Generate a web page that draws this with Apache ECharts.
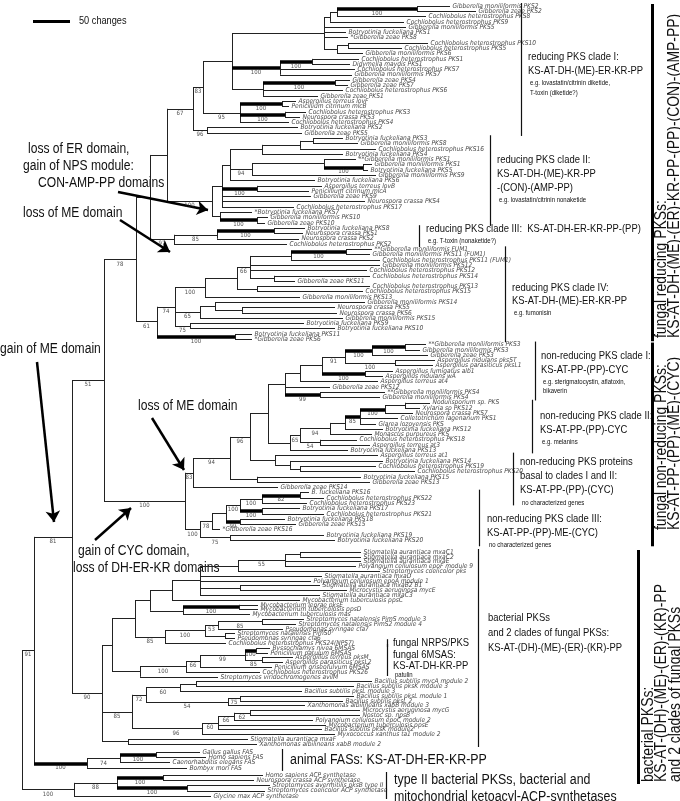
<!DOCTYPE html>
<html>
<head>
<meta charset="utf-8">
<script src="https://cdn.jsdelivr.net/npm/echarts@6/dist/echarts.min.js"></script>
<style>
html, body { margin: 0; padding: 0; background: #fff; }
#tree { width: 680px; height: 801px; }
</style>
</head>
<body>
<div id="tree"></div>
<script>
// node = [depth, bootstrap, thickStem, ...children]; leaf = [name, tipDepth]
var reducingI = [193, '67', 0,
  [203, '83', 0,
    [232, '', 0,
      [324, '', 0,
        [330, '', 0,
          [337, '', 0,
            [417, '100', 1, ['Gibberella moniliformis PKS2', 450], ['Gibberella zeae PKS2', 476]],
            ['Cochliobolus heterostrophus PKS8', 426]],
          ['Cochliobolus heterostrophus PKS9', 404]],
        ['Gibberella moniliformis PKS5', 406],
        ['Botryotinia fuckeliana PKS1', 346],
        ['*Gibberella zeae PKS8', 348],
        [337, '', 0,
          [348, '', 0, ['Cochliobolus heterostrophus PKS10', 428], ['Cochliobolus heterostrophus PKS5', 402]],
          ['Gibberella moniliformis PKS6', 363]]],
      [280, '100', 1,
        [312, '100', 1, ['Cochliobolus heterostrophus PKS1', 359], ['Didymella maydis PKS1', 350]],
        ['Cochliobolus heterostrophus PKS7', 355],
        ['Gibberella moniliformis PKS7', 352]],
      [263, '', 0,
        [335, '100', 1, ['Gibberella zeae PKS4', 350], ['Gibberella zeae PKS7', 348]],
        ['Cochliobolus heterostrophus PKS6', 343],
        ['Gibberella zeae PKS1', 318]]],
    [240, '95', 0,
      [282, '100', 1, ['Aspergillus terreus lovF', 296], ['Penicillium citrinum mlcB', 289]],
      [285, '100', 1, ['Cochliobolus heterostrophus PKS3', 306], ['Neurospora crassa PKS3', 300]],
      ['Cochliobolus heterostrophus PKS4', 289]]],
  [207, '96', 0, ['Botryotinia fuckeliana PKS2', 298], ['Gibberella zeae PKS5', 302]]]

var reducingII = [212, '100', 0,
  [222, '', 0,
    [230, '', 0,
      [262, '', 0,
        [300, '', 0,
          [313, '', 0, ['Botryotinia fuckeliana PKS3', 343], ['Gibberella moniliformis PKS8', 358]],
          ['Cochliobolus heterostrophus PKS16', 376]],
        ['Botryotinia fuckeliana PKS4', 343]],
      [252, '94', 0,
        [324, '', 0,
          ['**Gibberella moniliformis PKS1', 356],
          [363, '100', 1, ['Gibberella moniliformis PKS1', 372], ['Botryotinia fuckeliana PKS5', 368]]],
        ['Gibberella moniliformis PKS9', 376]],
      ['Botryotinia fuckeliana PKS6', 315]],
    [257, '100', 1, ['Aspergillus terreus lovB', 322], ['Penicillium citrinum mlcA', 309]],
    ['Gibberella zeae PKS9', 311],
    ['Neurospora crassa PKS4', 365],
    ['Cochliobolus heterostrophus PKS17', 294]],
  [220, '', 0,
    ['*Botryotinia fuckeliana PKS7', 252],
    [257, '100', 1, ['Gibberella moniliformis PKS10', 268], ['Gibberella zeae PKS10', 265]]]]

var reducingIII = [174, '97', 0,
  [217, '85', 0,
    [274, '100', 1, ['Botryotinia fuckeliana PKS8', 305], ['Neurospora crassa PKS1', 303]],
    ['Neurospora crassa PKS2', 299]],
  ['Cochliobolus heterostrophus PKS2', 287]]

var reducingIV = [157, '61', 0,
  [175, '74', 0,
    [205, '100', 0,
      [237, '', 0,
        [250, '66', 0,
          [291, '', 0,
            [346, '100', 1, ['**Gibberella moniliformis FUM1', 372], ['Gibberella moniliformis PKS11 (FUM1)', 370]],
            ['Cochliobolus heterostrophus PKS11 (FUM1)', 380]],
          ['Gibberella moniliformis PKS12', 380],
          ['Cochliobolus heterostrophus PKS12', 367],
          [274, '', 0, ['Cochliobolus heterostrophus PKS14', 370], ['Gibberella zeae PKS11', 295]]],
        [257, '', 0, ['Cochliobolus heterostrophus PKS13', 370], ['Cochliobolus heterostrophus PKS15', 363]]],
      ['Gibberella moniliformis PKS13', 300]],
    [200, '65', 0,
      [215, '', 0,
        ['Gibberella moniliformis PKS14', 365],
        [242, '', 0, ['Neurospora crassa PKS5', 335], ['Neurospora crassa PKS6', 337]]],
      ['Gibberella moniliformis PKS15', 343]],
    [190, '75', 0, ['Botryotinia fuckeliana PKS9', 304], ['Botryotinia fuckeliana PKS10', 335]]],
  [235, '100', 1, ['Botryotinia fuckeliana PKS11', 252], ['*Gibberella zeae PKS6', 252]]]

var nonReducingI = [285, '', 0,
  [300, '', 0,
    [322, '', 0,
      [345, '91', 0,
        [372, '100', 1,
          [405, '100', 1, ['**Gibberella moniliformis PKS3', 426], ['Gibberella moniliformis PKS3', 420]],
          ['Gibberella zeae PKS3', 428]],
        [395, '100', 0, ['Aspergillus nidulans pksST', 435], ['Aspergillus parasiticus pksL1', 433]]],
      [365, '100', 1, ['Aspergillus fumigatus alb1', 393], ['Aspergillus nidulans wA', 383]]],
    ['Aspergillus terreus at4', 378]],
  ['Gibberella zeae PKS12', 330],
  [320, '99', 1, ['**Gibberella moniliformis PKS4', 385], ['Gibberella moniliformis PKS4', 380]]]

var nonReducingII = [290, '', 0,
  [300, '65', 0,
    [330, '94', 0,
      [345, '', 0,
        [360, '85', 1,
          [385, '100', 1,
            [405, '', 0, ['Nodulisporium sp. PKS', 430], ['Xylaria sp PKS12', 420]],
            ['Neurospora crassa PKS7', 413]],
          ['Colletotrichum lagenarium PKS1', 398],
          ['Glarea lozoyensis PKS', 376]],
        ['Botryotinia fuckeliana PKS12', 383]],
      ['Monascus purpureus PKS', 372]],
    [320, '54', 0, ['Cochliobolus heterostrophus PKS18', 357], ['Aspergillus terreus at3', 370]]],
  ['Botryotinia fuckeliana PKS13', 348]]

var nonReducingBasal = [193, '83', 0,
  [230, '94', 0,
    [250, '96', 0,
      [268, '', 0, nonReducingI, nonReducingII],
      [275, '', 0,
        ['Aspergillus terreus at1', 378],
        [290, '', 0,
          ['Botryotinia fuckeliana PKS14', 383],
          [300, '', 0, ['Cochliobolus heterostrophus PKS19', 376], ['Cochliobolus heterostrophus PKS20', 415]]]]],
    [257, '', 0, ['Botryotinia fuckeliana PKS15', 361], ['Gibberella zeae PKS13', 370]]],
  ['Gibberella zeae PKS14', 278]]

var nonReducingIII = [200, '100', 0,
  [212, '78', 0,
    [226, '', 0,
      [240, '100', 0,
        [262, '100', 0,
          [300, '82', 1, ['B. fuckeliana PKS16', 309], ['Cochliobolus heterostrophus PKS22', 324]],
          ['Cochliobolus heterostrophus PKS23', 307]],
        [262, '100', 1, ['Botryotinia fuckeliana PKS17', 300], ['Cochliobolus heterostrophus PKS21', 324]]],
      [240, '99', 1, ['Botryotinia fuckeliana PKS18', 285], ['Gibberella zeae PKS15', 296]]],
    ['*Gibberella zeae PKS16', 220]],
  [230, '75', 0, ['Botryotinia fuckeliana PKS19', 324], ['Botryotinia fuckeliana PKS20', 335]]]

var stigmatellaGroup = [150, '', 0,
  [172, '', 0,
    [200, '', 0,
      [238, '', 0,
        [285, '55', 0,
          [300, '', 0, ['Stigmatella aurantiaca mxaC1', 361], ['Stigmatella aurantiaca mxaC2', 361]],
          ['Stigmatella aurantiaca mxaE', 361],
          ['Polyangium cellulosum epoF module 9', 356]],
        ['Streptomyces coelicolor pks', 380]],
      ['Stigmatella aurantiaca mxaD', 322],
      ['Polyangium cellulosum epoA module 1', 311],
      [240, '', 0, ['Stigmatella aurantiaca mxaB2 B1', 320], ['Microcystis aeruginosa mycE', 347]],
      ['Stigmatella aurantiaca mxaC3', 320]],
    ['Mycobacterium tuberculosis ppsC', 300]],
  [183, '', 0,
    [239, '100', 1, ['Mycobacterium leprae pksE', 258], ['Mycobacterium tuberculosis ppsD', 258]],
    ['Mycobacterium tuberculosis mas', 250]]]

var pimarisGroup = [165, '85', 0,
  [205, '100', 0,
    [218, '53', 0,
      [262, '85', 0, ['Streptomyces natalensis PimS module 3', 304], ['Streptomyces natalensis PimS2 module 4', 296]],
      ['Pseudomonas syringae cfa7', 283]],
    [225, '', 0, ['Streptomyces natalensis PimS0', 235], ['Pseudomonas syringae cfa6', 235]]],
  ['Cochliobolus heterostrophus PKS24(NPS7)', 226]]

var msasGroup = [140, '', 0,
  [186, '100', 0,
    [200, '66', 0,
      [245, '99', 0,
        [256, '100', 1, ['Byssochlamys nivea 6MSAS', 270], ['Penicillium patulum 6MSAS', 268]],
        [262, '85', 0, ['Aspergillus terreus pksM', 293], ['Aspergillus parasiticus pksL2', 283]]],
      ['Penicillium griseofulvum 6MSAS', 272]],
    ['Cochliobolus heterostrophus PKS26', 260]],
  ['Streptomyces viridochromogenes avilM', 218]]

var bacillusGroup = [132, '85', 0,
  [146, '72', 0,
    [180, '60', 0,
      [196, '', 0, ['Bacillus subtilis mycA module 2', 372], ['Bacillus subtilis pksK module 3', 354]],
      ['Bacillus subtilis pksL module 3', 302]],
    [228, '54', 0,
      [240, '75', 0, ['Bacillus subtilis pksL module 1', 354], ['Bacillus subtilis pksL 2', 343]],
      ['Xanthomonas albilineans xabB module 3', 305]]],
  [150, '', 0,
    [202, '96', 0,
      [218, '60', 0,
        [234, '66', 0,
          [250, '62', 0, ['Microcystis aeruginosa mycG', 360], ['Nostoc sp. npsB', 360]],
          ['Polyangium cellulosum epoC module 2', 313]],
        ['Mycobacterium tuberculosis ppsE', 326],
        ['Bacillus subtilis pksK module2', 322]],
      ['Myxococcus xanthus ta1 module 2', 335]]]]

var bacterial = [102, '90', 0,
  [112, '', 0, [135, '', 0, stigmatellaGroup, pimarisGroup], msasGroup],
  bacillusGroup,
  [128, '', 0, ['Stigmatella aurantiaca mxaF', 248], ['Xanthomonas albilineans xabB module 2', 257]]]

var animalFAS = [87, '100', 1,
  [120, '74', 0,
    [156, '100', 1, ['Gallus gallus FAS', 200], ['Homo sapiens FAS', 206]],
    ['Caenorhabditis elegans FAS', 170]],
  ['Bombyx mori FAS', 187]]

var typeII = [74, '100', 0,
  [117, '88', 0,
    [163, '100', 1, ['Homo sapiens ACP synthetase', 263], ['Neurospora crassa ACP synthetase', 254]],
    [187, '100', 1, ['Streptomyces avermitilis pksB type II', 270], ['Streptomyces coelicolor ACP synthetase', 265]]],
  ['Glycine max ACP synthetase', 211]]

var reducing = [136, '78', 0, [150, '', 0, [167, '', 0, reducingI, reducingII], reducingIII], reducingIV]
var fungal = [104, '51', 0, reducing, [185, '100', 0, nonReducingBasal, nonReducingIII]]
var tree = [22, '', 0, [34, '91', 0, [72, '81', 0, fungal, bacterial], animalFAS], typeII]

// clade notes: [first leaf, last leaf, text lines]
var cladeNotes = [
  ['Gibberella moniliformis PKS2', 'Gibberella zeae PKS5', ['reducing PKS clade I:', 'KS-AT-DH-(ME)-ER-KR-PP', 'e.g. lovastatin/citrinin diketide,', 'T-toxin (diketide?)']],
  ['Botryotinia fuckeliana PKS3', 'Gibberella zeae PKS10', ['reducing PKS clade II:', 'KS-AT-DH-(ME)-KR-PP', '-(CON)-(AMP-PP)', 'e.g. lovastatin/citrinin nonaketide']],
  ['Botryotinia fuckeliana PKS8', 'Cochliobolus heterostrophus PKS2', ['reducing PKS clade III:  KS-AT-DH-ER-KR-PP-(PP)', 'e.g. T-toxin (nonaketide?)']],
  ['**Gibberella moniliformis FUM1', '*Gibberella zeae PKS6', ['reducing PKS clade IV:', 'KS-AT-DH-(ME)-ER-KR-PP', 'e.g. fumonisin']],
  ['**Gibberella moniliformis PKS3', 'Gibberella moniliformis PKS4', ['non-reducing PKS clade I:', 'KS-AT-PP-(PP)-CYC', 'e.g. sterigmatocystin, aflatoxin,', 'bikaverin']],
  ['Nodulisporium sp. PKS', 'Botryotinia fuckeliana PKS13', ['non-reducing PKS clade II:', 'KS-AT-PP-(PP)-CYC', 'e.g. melanins']],
  ['Aspergillus terreus at1', 'Gibberella zeae PKS14', ['non-reducing PKS proteins', 'basal to clades I and II:', 'KS-AT-PP-(PP)-(CYC)', 'no characterized genes']],
  ['B. fuckeliana PKS16', 'Botryotinia fuckeliana PKS20', ['non-reducing PKS clade III:', 'KS-AT-PP-(PP)-ME-(CYC)', 'no characterized genes']],
  ['Stigmatella aurantiaca mxaC1', 'Xanthomonas albilineans xabB module 2', ['bacterial PKSs', 'and 2 clades of fungal PKSs:', 'KS-AT-(DH)-(ME)-(ER)-(KR)-PP']],
  ['Cochliobolus heterostrophus PKS24(NPS7)', 'Cochliobolus heterostrophus PKS24(NPS7)', ['fungal NRPS/PKS']],
  ['Byssochlamys nivea 6MSAS', 'Cochliobolus heterostrophus PKS26', ['fungal 6MSAS:', 'KS-AT-DH-KR-PP', 'patulin']],
  ['Gallus gallus FAS', 'Bombyx mori FAS', ['animal FASs: KS-AT-DH-ER-KR-PP']],
  ['Homo sapiens ACP synthetase', 'Glycine max ACP synthetase', ['type II bacterial PKSs, bacterial and', 'mitochondrial ketoacyl-ACP-synthetases']]
]
var groupNotes = [
  ['Gibberella moniliformis PKS2', '*Gibberella zeae PKS6', ['fungal reducing PKSs:', 'KS-AT-DH-(ME)-(ER)-KR-PP-(PP)-(CON)-(AMP-PP)']],
  ['**Gibberella moniliformis PKS3', 'Botryotinia fuckeliana PKS20', ['fungal non-reducing PKSs:', 'KS-AT-PP-(PP)-(ME)-(CYC)']],
  ['Stigmatella aurantiaca mxaC1', 'Xanthomonas albilineans xabB module 2', ['bacterial PKSs:', 'KS-AT-(DH)-(ME)-(ER)-(KR)-PP', 'and 2 clades of fungal PKSs']]
]
var eventNotes = [
  ['loss of ER domain,', 'gain of NPS module:', 'CON-AMP-PP domains'],
  ['loss of ME domain'],
  ['gain of ME domain'],
  ['loss of ME domain'],
  ['gain of CYC domain,', 'loss of DH-ER-KR domains']
]

// ---------- layout ----------
var FONT = '"Liberation Sans", Arial, sans-serif'
var LEAF_FONT = '"DejaVu Sans Condensed", "Liberation Sans", sans-serif'
var rowSections = [[0, 6, 5.29], [102, 552, 4.8], [143, 752, 5.3], [147, 775, 5.25]]
function rowY (i) {
  var s = rowSections[0]
  rowSections.forEach(function (r) { if (i >= r[0]) s = r })
  return s[1] + (i - s[0]) * s[2]
}

var thin = [], thick = [], leaves = [], boots = [], leafPos = {}
var leafCount = 0
function walk (n, parentX) {
  if (typeof n[0] === 'string') {
    var ly = rowY(leafCount++)
    leafPos[n[0]] = ly
    leaves.push([n[1], ly, n[0]])
    thin.push({ coords: [[parentX, ly], [n[1], ly]] })
    return ly
  }
  var x = n[0]
  var ys = n.slice(3).map(function (c) { return walk(c, x) })
  var y = (ys[0] + ys[ys.length - 1]) / 2
  thin.push({ coords: [[x, ys[0]], [x, ys[ys.length - 1]]] })
  if (parentX != null) {
    (n[2] ? thick : thin).push({ coords: [[parentX, y], [x, y]] })
    if (n[1]) boots.push([(parentX + x) / 2, y, n[1]])
  }
  return y
}
walk(tree, null)

// narrow text: a normal sans face squeezed horizontally
function narrowText (t, x, y, size, extra) {
  var el = {
    type: 'text', x: x, y: y, scaleX: 0.8,
    style: { text: t, fill: '#111', font: size + 'px ' + FONT, verticalAlign: 'middle' }
  }
  if (extra) for (var k in extra) el[k] = extra[k]
  return el
}

// bracket x, text x, text line ys, bracket top pad, bracket bottom pad
var noteLayout = [
  [521, 528, [57, 70.5, 83, 93], 3, 3], [490, 497, [160, 174, 188, 200], 3, 3], [419, 426, [229, 241], 3, 3],
  [505, 512, [288, 301, 313], 3, 3], [535, 541, [356, 369.5, 382, 391], 3, 3], [532, 540, [416, 429.5, 442], 3, 3],
  [513, 520, [462, 476, 490, 503], 3, 18], [479, 487, [519, 533, 545], 3, 6], [478, 488, [618, 633, 648], 3, 3],
  [387, 393, [643], 4, 4], [387, 393, [655, 666, 675], 4, 4], [282, 290, [760], 3, 3], [386, 394, [780, 796.5], 3, 3]
]
var graphics = []
var brackets = []
cladeNotes.forEach(function (c, k) {
  var L = noteLayout[k]
  var y1 = leafPos[c[0]] - L[3], y2 = leafPos[c[1]] + L[4]
  brackets.push({ coords: [[L[0], y1], [L[0], y2]] })
  c[2].forEach(function (t, j) {
    var small = /^(e\.g\.|T-toxin|bikaverin|no charact|patulin)/.test(t)
    var size = small ? 7.5 : (k >= 11 ? 15.5 : 11.8)
    graphics.push(narrowText(t, L[1] + (small ? 2 : 0), L[2][j], size))
  })
})

var groupLayout = [[652, 338, 661], [652, 530, 661], [638, 782, 648]]
var bars = []
groupNotes.forEach(function (g, k) {
  var L = groupLayout[k]
  bars.push({ coords: [[L[0], leafPos[g[0]] - 2], [L[0], leafPos[g[1]] + (k === 1 ? 6 : 2) + (k === 2 ? 38 : 0)]] })
  g[2].forEach(function (t, j) {
    graphics.push(narrowText(t, L[2] + j * 13.5, L[1], 17, { rotation: Math.PI / 2, scaleX: 0.82 }))
  })
})

var eventLayout = [[[28, 149], [23, 166], [38, 183]], [[23, 213]], [[0, 349]], [[138, 406]], [[78, 551], [73, 568]]]
var arrowPaths = [[[118, 192], [208, 210]], [[120, 220], [170, 252]], [[37, 362], [54, 522]], [[152, 418], [184, 470]], [[95, 540], [131, 508]]]
eventNotes.forEach(function (e, k) {
  e.forEach(function (t, j) {
    graphics.push(narrowText(t, eventLayout[k][j][0], eventLayout[k][j][1], 15.5, { scaleX: 0.78 }))
  })
})
graphics.push(narrowText('50 changes', 79, 21, 11.5))

var chart = echarts.init(document.getElementById('tree'))
chart.setOption({
  animation: false,
  grid: { left: 0, right: 0, top: 0, bottom: 0 },
  xAxis: { type: 'value', min: 0, max: 680, show: false },
  yAxis: { type: 'value', min: 0, max: 801, inverse: true, show: false },
  graphic: graphics,
  series: [
    { type: 'lines', coordinateSystem: 'cartesian2d', silent: true, data: thin, lineStyle: { color: '#222', width: 1, opacity: 1 } },
    { type: 'lines', coordinateSystem: 'cartesian2d', silent: true, data: thick, lineStyle: { color: '#000', width: 3.5, opacity: 1 } },
    { type: 'lines', coordinateSystem: 'cartesian2d', silent: true, data: brackets, lineStyle: { color: '#111', width: 1.2, opacity: 1 } },
    { type: 'lines', coordinateSystem: 'cartesian2d', silent: true, data: bars, lineStyle: { color: '#000', width: 3, opacity: 1 } },
    { type: 'lines', coordinateSystem: 'cartesian2d', silent: true, data: [{ coords: [[33, 21], [70, 21]] }], lineStyle: { color: '#000', width: 3, opacity: 1 } },
    {
      type: 'lines', coordinateSystem: 'cartesian2d', silent: true,
      data: arrowPaths.map(function (p) { return { coords: p } }),
      symbol: ['none', 'arrow'], symbolSize: 11,
      lineStyle: { color: '#000', width: 2.5, opacity: 1 }
    },
    {
      type: 'scatter', silent: true, data: leaves, symbolSize: 1, itemStyle: { color: 'rgba(0,0,0,0)' },
      label: { show: true, position: 'right', distance: 2, formatter: function (p) { return p.data[2] }, fontSize: 6.6, fontStyle: 'italic', fontFamily: LEAF_FONT, color: '#111' }
    },
    {
      type: 'scatter', silent: true, data: boots, symbolSize: 1, itemStyle: { color: 'rgba(0,0,0,0)' },
      label: { show: true, position: 'bottom', distance: 1, formatter: function (p) { return p.data[2] }, fontSize: 6, fontFamily: LEAF_FONT, color: '#222' }
    }
  ]
})
</script>
</body>
</html>
